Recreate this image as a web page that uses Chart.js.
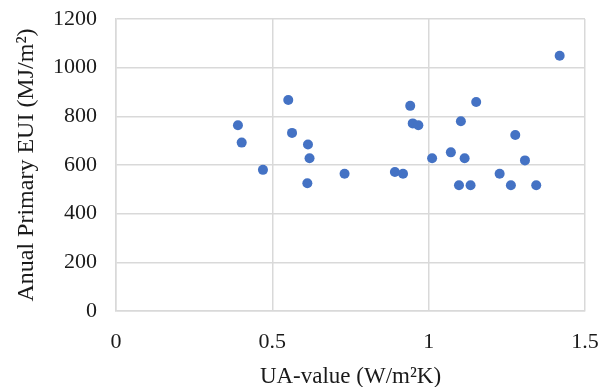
<!DOCTYPE html>
<html>
<head>
<meta charset="utf-8">
<script src="https://cdn.jsdelivr.net/npm/chart.js@4"></script>
<style>
html,body{margin:0;padding:0;background:#fff;}
#wrap{width:610px;height:387px;}
</style>
</head>
<body>
<div id="wrap"><canvas id="c" width="610" height="387"></canvas></div>
<script>
const uaValues = [0.390,0.402,0.470,0.551,0.563,0.614,0.619,0.612,1.419,0.941,1.152,0.949,0.967,1.103,1.277,1.011,1.071,1.115,1.308,0.731,0.892,0.918,1.227,1.097,1.134,1.263,1.344];
const euiValues = [763,692,580,867,732,684,628,525,1049,843,859,771,763,780,723,628,652,628,619,564,571,564,564,517,517,517,517];
const xTickLabels = ['0','0.5','1','1.5'];
const yTickLabels = ['0','200','400','600','800','1000','1200'];
const xTitle = 'UA-value (W/m²K)';
const yTitle = 'Anual Primary EUI (MJ/m²)';

const points = uaValues.map((x,i)=>({x:x,y:euiValues[i]}));
const fam = '"Liberation Serif","Times New Roman",serif';
const tickFont = {family:fam, size:22};
const gridColor = '#d9d9d9';
const textColor = '#1a1a1a';

new Chart(document.getElementById('c'), {
  type:'scatter',
  data:{datasets:[{data:points,backgroundColor:'#4472C4',borderColor:'#4472C4',pointRadius:5,pointHoverRadius:5,borderWidth:0}]},
  options:{
    responsive:false,animation:false,
    layout:{padding:{top:19,right:25,left:0,bottom:0}},
    plugins:{legend:{display:false},tooltip:{enabled:false}},
    scales:{
      x:{type:'linear',min:0,max:1.5,
        ticks:{stepSize:0.5,padding:18.5,color:textColor,font:tickFont,maxRotation:0,
          callback:(v)=>{const i=Math.round(v/0.5);return xTickLabels[i]!==undefined?xTickLabels[i]:'';}},
        grid:{color:gridColor,lineWidth:1.5,drawTicks:false},
        border:{color:gridColor,width:1.5},
        title:{display:true,text:xTitle,color:textColor,font:{family:fam,size:23,lineHeight:1},padding:{top:0,bottom:-1}},
        afterFit:(s)=>{s.height=76;s.paddingLeft=0;s.paddingRight=0;}
      },
      y:{type:'linear',min:0,max:1200,
        ticks:{stepSize:200,padding:19,color:textColor,font:tickFont,
          callback:(v)=>{const i=Math.round(v/200);return yTickLabels[i]!==undefined?yTickLabels[i]:'';}},
        grid:{color:gridColor,lineWidth:1.5,drawTicks:false},
        border:{color:gridColor,width:1.5},
        title:{display:true,text:yTitle,color:textColor,font:{family:fam,size:24,lineHeight:1.2},padding:{top:12,bottom:0}},
        afterFit:(s)=>{s.width=116;s.paddingTop=0;s.paddingBottom=0;}
      }
    }
  }
});
</script>
</body>
</html>
